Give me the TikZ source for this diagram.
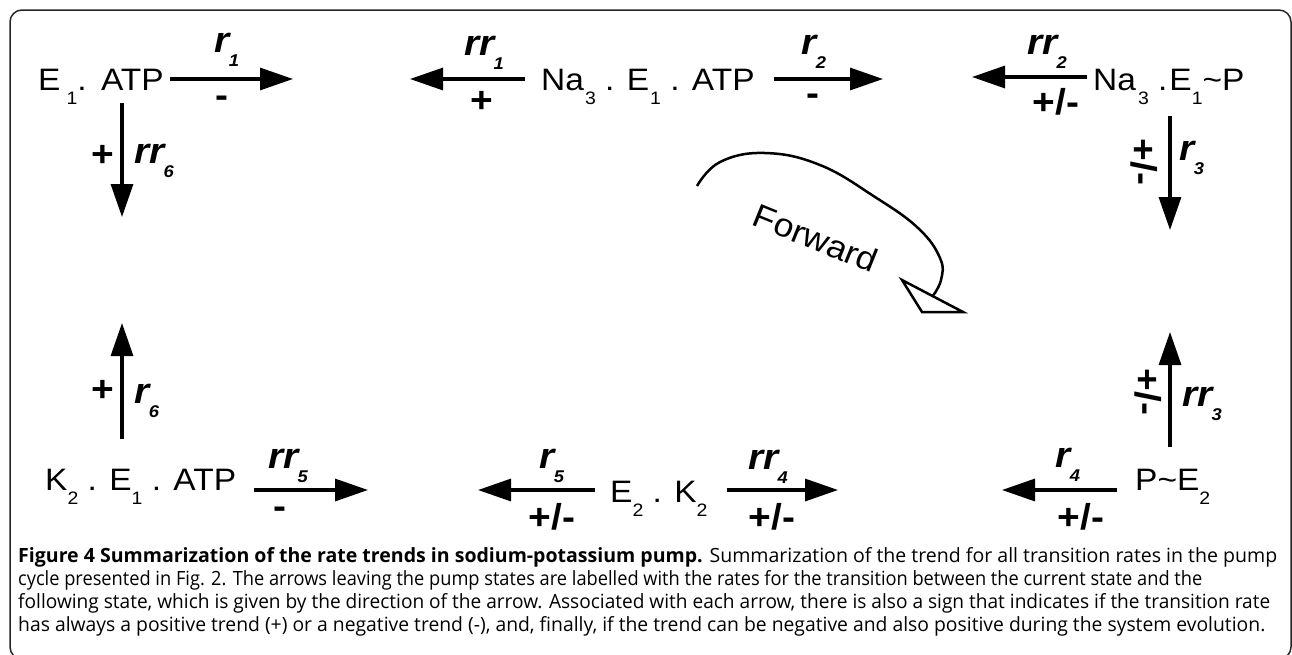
\documentclass[tikz,border=0pt]{standalone}
\usepackage{graphicx}
\usepackage{fontspec}
\setmainfont{Liberation Sans}[FakeStretch=1.08]
\newfontfamily\capfont{Open Sans}
\usetikzlibrary{arrows.meta}
\newcommand{\ssub}[1]{\raisebox{-14pt}{\fontsize{18}{18}\selectfont #1}}
\newcommand{\lsub}[1]{\kern-1pt\raisebox{-14pt}{\fontsize{17}{17}\selectfont\bfseries\itshape #1}}
\newcommand{\fitline}[2]{\resizebox{#1}{\height}{#2}}
\begin{document}
\begin{tikzpicture}[x=1pt,y=-1pt,
  state/.style={font=\fontsize{31}{31}\selectfont, inner sep=0pt, anchor=base west},
  lab/.style={font=\fontsize{36}{36}\selectfont\bfseries\itshape, inner sep=0pt},
  sgn/.style={font=\fontsize{36}{36}\selectfont\bfseries, inner sep=0pt, anchor=base},
  rsgn/.style={font=\fontsize{36}{36}\selectfont\bfseries, inner sep=0pt, rotate=-90},
  rate/.style={line width=3.2pt, -{Triangle[length=33pt,width=22pt]}},
  captxt/.style={font=\capfont\fontsize{19.6}{19.6}\selectfont, inner sep=0pt, anchor=base west},
]
\useasboundingbox (0,0) rectangle (1292,654);
\clip (0,0) rectangle (1292,654);
\draw[line width=1.5pt, rounded corners=12pt, black!85] (10,10) rectangle (1291,659);

% states
\node[state] (s1) at (38,90) {E\kern6pt\ssub{1}. \kern2pt ATP};
\node[state] (s2) at (541,90) {Na\kern1pt\ssub{3} . E\kern1pt\ssub{1} . ATP};
\node[state] (s3) at (1093,90) {Na\kern2pt\ssub{3} .\kern2pt E\ssub{1}\textasciitilde P};
\node[state] (s4) at (1135,490) {P\textasciitilde E\ssub{2}};
\node[state] (s5) at (610,502) {E\ssub{2} . K\ssub{2}};
\node[state] (s6) at (45,490) {K\ssub{2} . E\ssub{1} . ATP};

% free ends of the arrows
\coordinate (a1e) at (293,79);
\coordinate (a6e) at (122,217);
\coordinate (b1e) at (410,79);
\coordinate (b2e) at (883,79);
\coordinate (c2e) at (972,77);
\coordinate (c3e) at (1170,230);
\coordinate (d3e) at (1170,332);
\coordinate (d4e) at (1002,490);
\coordinate (e5e) at (478,490);
\coordinate (e4e) at (838,490);
\coordinate (f5e) at (368,490);
\coordinate (f6e) at (122,323);

\draw[rate] ([xshift=6pt]s1.east |- a1e) -- (a1e);
\draw[rate] ([yshift=1pt]s1.south -| a6e) -- (a6e);
\draw[rate] ([xshift=-16pt]s2.west |- b1e) -- (b1e);
\draw[rate] ([xshift=19pt]s2.east |- b2e) -- (b2e);
\draw[rate] ([xshift=-6pt]s3.west |- c2e) -- (c2e);
\draw[rate] ([yshift=-12pt]s3.south -| c3e) -- (c3e);
\draw[rate] ([yshift=21pt]s4.north -| d3e) -- (d3e);
\draw[rate] ([xshift=-18pt]s4.west |- d4e) -- (d4e);
\draw[rate] ([xshift=-15pt]s5.west |- e5e) -- (e5e);
\draw[rate] ([xshift=19pt]s5.east |- e4e) -- (e4e);
\draw[rate] ([xshift=18pt]s6.east |- f5e) -- (f5e);
\draw[rate] ([yshift=29pt]s6.north -| f6e) -- (f6e);

% rate labels
\node[lab] (l1) at (227,50) {r\lsub{1}};
\node[lab] (l2) at (484,53) {rr\lsub{1}};
\node[lab] (l3) at (814,52) {r\lsub{2}};
\node[lab] (l4) at (1047,52) {rr\lsub{2}};
\node[lab] (l5) at (1192,158) {r\lsub{3}};
\node[lab] (l6) at (1202,404) {rr\lsub{3}};
\node[lab] (l7) at (1068,465) {r\lsub{4}};
\node[lab] (l8) at (768,467) {rr\lsub{4}};
\node[lab] (l9) at (552,466) {r\lsub{5}};
\node[lab] (l10) at (288,466) {rr\lsub{5}};
\node[lab] (l11) at (147,401) {r\lsub{6}};
\node[lab] (l12) at (154,161) {rr\lsub{6}};

% trend signs
\node[sgn] (g1) at (222,107) {-};
\node[sgn] (g2) at (482,112) {+};
\node[sgn] (g3) at (813,105) {-};
\node[sgn] (g4) at (1056,114) {+/-};
\node[rsgn] (g5) at (1144,162) {+/-};
\node[rsgn] (g6) at (1148,392) {+/-};
\node[sgn] (g7) at (1081,529) {+/-};
\node[sgn] (g8) at (772,529) {+/-};
\node[sgn] (g9) at (552,529) {+/-};
\node[sgn] (g10) at (280,518) {-};
\node[sgn] (g11) at (103,401) {+};
\node[sgn] (g12) at (103,166) {+};

% forward arrow
\node[font=\fontsize{33}{33}\selectfont, rotate=-22, inner sep=0pt] (fw) at (816,238) {Forward};
\draw[line width=2.5pt] plot[smooth, tension=0.7] coordinates {(697,186) (720,162) (765,153) (820,165) (875,197) (918,228) (940,258) (941,280) (932,297)};
\draw[line width=2.5pt, fill=white, line join=miter] (902,280) -- (922,312) -- (963,312) -- cycle;

% caption
\node[captxt] (c1) at (18,562) {\fitline{1259pt}{\textbf{Figure 4 Summarization of the rate trends in sodium-potassium pump.} Summarization of the trend for all transition rates in the pump}};
\node[captxt] (c2) at (18,585) {\fitline{1184pt}{cycle presented in Fig. 2. The arrows leaving the pump states are labelled with the rates for the transition between the current state and the}};
\node[captxt] (c3) at (18,608) {\fitline{1252pt}{following state, which is given by the direction of the arrow. Associated with each arrow, there is also a sign that indicates if the transition rate}};
\node[captxt] (c4) at (18,631) {\fitline{1247pt}{has always a positive trend (+) or a negative trend (-), and, finally, if the trend can be negative and also positive during the system evolution.}};
\end{tikzpicture}
\end{document}
